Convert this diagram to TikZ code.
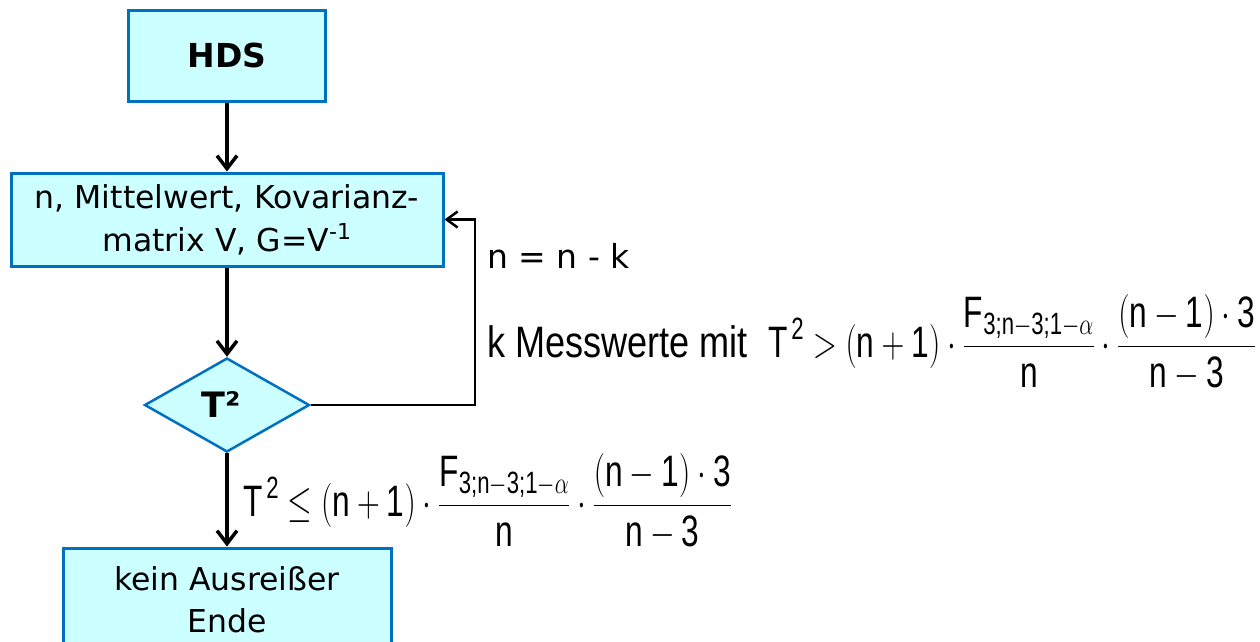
\RequirePackage{fix-cm}
\documentclass[tikz,border=0pt]{standalone}
\usepackage{amsmath}
\usepackage{fontspec}
\setmainfont{DejaVu Sans}
\newfontfamily\eqfont{Liberation Sans}
\usetikzlibrary{shapes.geometric,arrows.meta}

\definecolor{boxfill}{HTML}{CCFFFF}
\definecolor{boxblue}{HTML}{0070C0}

% text pieces of the bounds in the narrow font
\newcommand{\tx}[1]{\text{\eqfont #1}}
\newcommand{\Tbound}[1]{\scalebox{0.72}[1]{$\displaystyle
  \tx{T}^{\,\tx{2}} #1 \left(\tx{n}+\tx{1}\right)\cdot
  \frac{\tx{F}_{\tx{3;n}-\tx{3;1}-\alpha}}{\tx{n}}\cdot
  \frac{\left(\tx{n}-\tx{1}\right)\cdot\tx{3}}{\tx{n}-\tx{3}}$}}

\tikzset{
  flowbox/.style={draw=boxblue, fill=boxfill, line width=3pt, inner sep=0pt,
    align=center, font=\fontsize{31.5}{43}\selectfont},
  decision/.style={diamond, draw=boxblue, fill=boxfill, line width=2.5pt, inner sep=0pt,
    minimum width=165pt, minimum height=94pt, font=\fontsize{35}{40}\selectfont\bfseries},
  flowarrow/.style={line width=3.5pt, -{Straight Barb[length=13pt,width=20pt,line width=3.5pt]}},
  backline/.style={line width=2.5pt, -{Straight Barb[length=11pt,width=16pt,line width=2.5pt]}},
  note/.style={anchor=base west, inner sep=0pt}
}

\begin{document}
\begin{tikzpicture}[x=1pt,y=-1pt]
    \useasboundingbox (0,0) rectangle (1260,641);

    % the flow chart
    \node[flowbox, minimum width=197pt, minimum height=91pt,
          font=\fontsize{33}{38}\selectfont\bfseries] (hds) at (227,55.5) {HDS};
    \node[flowbox, minimum width=432pt, minimum height=93pt] (params) at (227,219.5)
        {n, Mittelwert, Kovarianz-\\matrix V, G=V\textsuperscript{-1}};
    \node[decision] (test) at (227,405) {\hspace*{-12pt}T²};
    \node[flowbox, minimum width=328pt, minimum height=104pt,
          font=\fontsize{31.5}{42}\selectfont] (ende) at (227,600)
        {kein Ausreißer\\Ende};

    \draw[flowarrow] (hds) -- (params);
    \draw[flowarrow] (params) -- (test);
    \draw[flowarrow] (test) -- (ende);

    % loop back to the parameters
    \coordinate (turn) at (475,405);
    \draw[backline] (test.east) -- (turn) |- (params.east);

    % labels
    \node[note, font=\fontsize{33}{38}\selectfont] (update) at (487,268) {n = n - k};
    \node[note, font=\fontsize{44}{50}\selectfont\eqfont] (drop) at (487,357)
        {\scalebox{0.82}[1]{k Messwerte mit}};
    \node[anchor=west, inner sep=0pt, font=\fontsize{44}{50}\selectfont] (upper) at (768,343)
        {\Tbound{>}};
    \node[anchor=west, inner sep=0pt, font=\fontsize{44}{50}\selectfont] (lower) at (243,502)
        {\Tbound{\le}};
\end{tikzpicture}
\end{document}
